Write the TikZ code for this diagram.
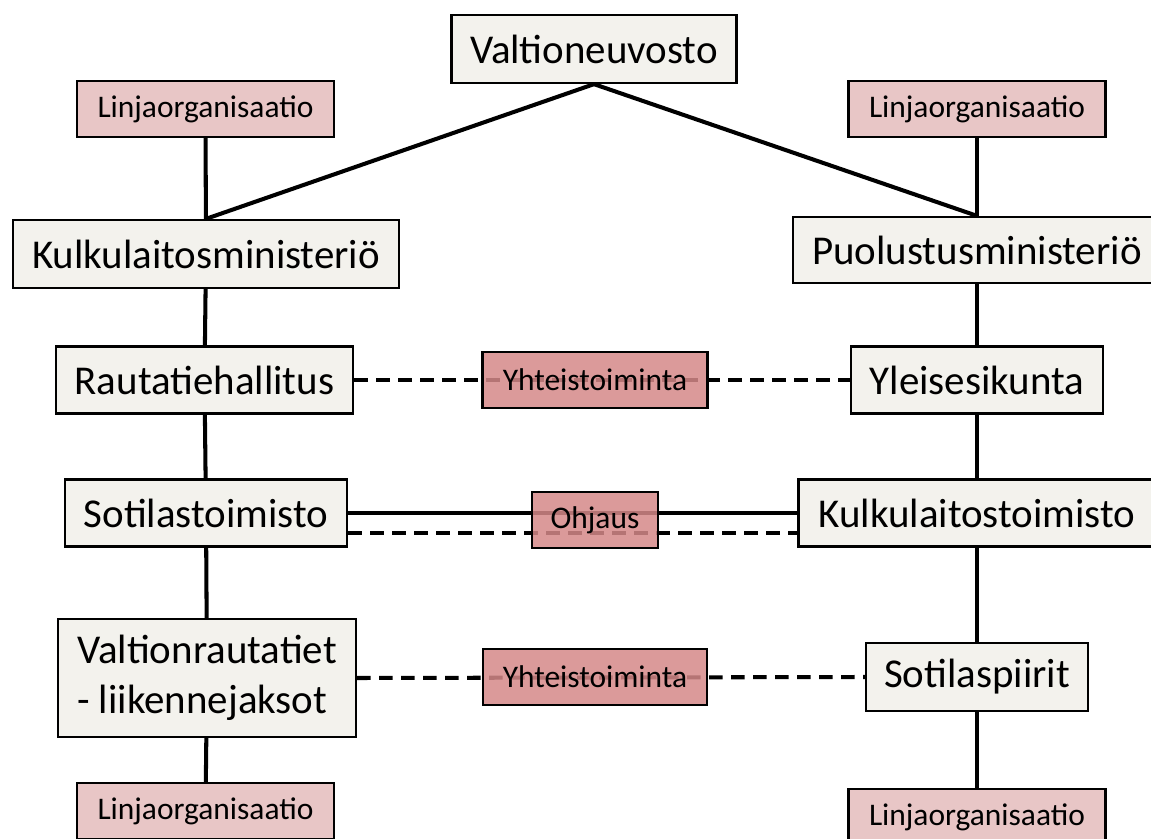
\documentclass[tikz,border=0pt]{standalone}
\usepackage{fontspec}
\setmainfont{Carlito}
\usepackage{tikz}
\usetikzlibrary{backgrounds}
\definecolor{OrgBeige}{HTML}{F3F2ED}
\definecolor{OrgPink}{HTML}{E8C6C6}
\definecolor{OrgRose}{HTML}{D58989}

\tikzset{
  unit/.style={draw=black,line width=1.3pt,fill=OrgBeige,inner sep=0pt,font=\fontsize{23.3}{28.5}\selectfont},
  lineorg/.style={draw=black,line width=1.3pt,fill=OrgPink,inner sep=0pt,minimum width=5.14cm,minimum height=1.12cm,font=\fontsize{17.9}{21}\selectfont},
  relation/.style={draw=black,line width=1.3pt,fill=OrgRose,fill opacity=.85,text opacity=1,inner sep=0pt,minimum height=1.12cm,font=\fontsize{17.9}{21}\selectfont},
  link/.style={line width=2.3pt},
  coop/.style={line width=2.3pt,dash pattern=on 0.27cm off 0.17cm}
}

\begin{document}
\begin{tikzpicture}[x=1cm,y=1cm]
\path[use as bounding box] (0,0) rectangle (23.02,16.76);
% top level
\node[unit,minimum width=5.70cm,minimum height=1.36cm] (valtio) at (11.88,15.78) {Valtioneuvosto};
\node[lineorg] (linjaTL) at (4.11,14.58) {Linjaorganisaatio};
\node[lineorg] (linjaTR) at (19.54,14.58) {Linjaorganisaatio};
% ministries
\node[unit,minimum width=7.72cm,minimum height=1.36cm] (kulkuMin) at (4.12,11.68) {Kulkulaitosministeriö};
\node[unit,minimum width=7.36cm,minimum height=1.32cm] (puolMin) at (19.54,11.76) {Puolustusministeriö};
% left column
\node[unit,minimum width=5.94cm,minimum height=1.34cm] (rautHall) at (4.09,9.16) {Rautatiehallitus};
\node[unit,minimum width=5.64cm,minimum height=1.34cm] (sotToim) at (4.12,6.50) {Sotilastoimisto};
\node[unit,minimum width=5.96cm,minimum height=2.36cm,align=left] (valtRaut) at (4.14,3.20) {Valtionrautatiet\\- liikennejaksot};
\node[lineorg] (linjaBL) at (4.11,0.54) {Linjaorganisaatio};
% right column
\node[unit,minimum width=5.04cm,minimum height=1.34cm] (yleis) at (19.54,9.16) {Yleisesikunta};
\node[unit,minimum width=7.14cm,minimum height=1.34cm] (kulkuToim) at (19.54,6.50) {Kulkulaitostoimisto};
\node[unit,minimum width=4.44cm,minimum height=1.36cm] (sotPiir) at (19.54,3.22) {Sotilaspiirit};
\node[lineorg] (linjaBR) at (19.54,0.42) {Linjaorganisaatio};
% relations in the middle
\node[relation,minimum width=4.50cm] (yhtTop) at (11.90,9.16) {Yhteistoiminta};
\node[relation,minimum width=2.52cm] (ohjaus) at (11.90,6.36) {Ohjaus};
\node[relation,minimum width=4.48cm] (yhtBot) at (11.90,3.22) {Yhteistoiminta};

\begin{scope}[on background layer]
\fill[white] (0,0) rectangle (23.02,16.76);
\draw[link] (valtio.south) -- (kulkuMin.north);
\draw[link] (valtio.south) -- (puolMin.north);
\draw[link] (linjaTL) -- (kulkuMin);
\draw[link] (linjaTR) -- (puolMin);
\draw[link] (kulkuMin) -- (rautHall) -- (sotToim) -- (valtRaut) -- (linjaBL);
\draw[link] (puolMin) -- (yleis) -- (kulkuToim) -- (sotPiir) -- (linjaBR);
\draw[coop] (rautHall.east) -- (yleis.west);
\draw[link] (sotToim.east) -- (kulkuToim.west);
\draw[coop] ([yshift=-0.4cm]sotToim.east) -- ([yshift=-0.4cm]kulkuToim.west);
\draw[coop] (valtRaut.east) -- (sotPiir.west);
\end{scope}
\end{tikzpicture}
\end{document}
